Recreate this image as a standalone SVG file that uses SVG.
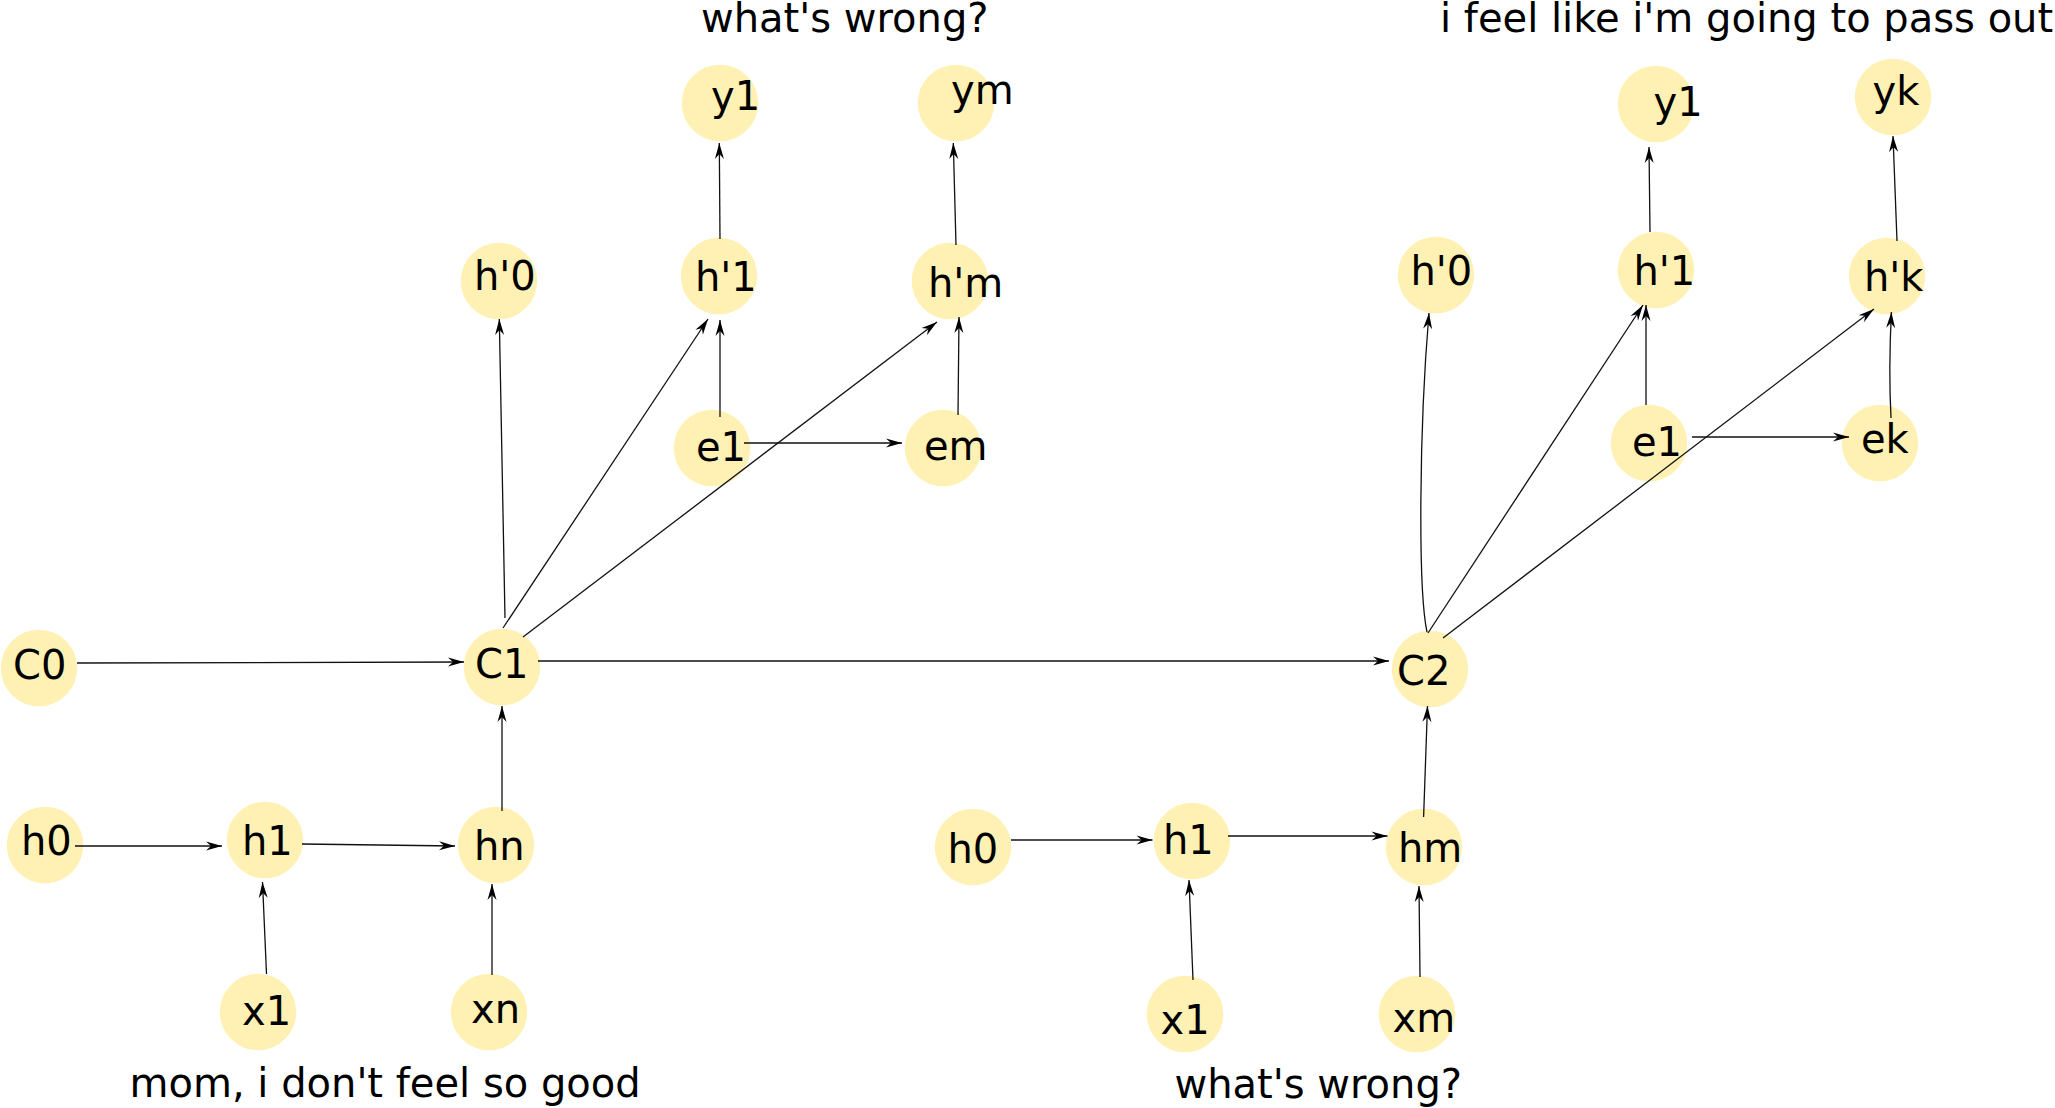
<svg xmlns="http://www.w3.org/2000/svg" width="2055" height="1108" viewBox="0 0 2055 1108">
<style>
.n circle{fill:#fff1b4;stroke:none}
text{font-family:"DejaVu Sans","Liberation Sans",sans-serif;font-size:40px;fill:#000}
.c path{fill:none;stroke:#111;stroke-width:1.3;marker-end:url(#ah)}
</style>
<defs>
<marker id="ah" markerUnits="userSpaceOnUse" viewBox="-17 -6 18 12" markerWidth="18" markerHeight="12" refX="0" refY="0" orient="auto">
<path d="M0,0 L-16,-4.5 L-11,0 L-16,4.5 Z" fill="#000"/>
</marker>
</defs>
<rect width="2055" height="1108" fill="#fff"/>
<g id="nodes">
<g id="C0" class="n"><circle cx="39" cy="668" r="38.3"/><text x="13" y="679">C0</text></g>
<g id="C1" class="n"><circle cx="502" cy="667" r="38.3"/><text x="475" y="678">C1</text></g>
<g id="h0a" class="n"><circle cx="45" cy="845" r="38.3"/><text x="21" y="855">h0</text></g>
<g id="h1a" class="n"><circle cx="265" cy="840" r="38.3"/><text x="242" y="855">h1</text></g>
<g id="hn" class="n"><circle cx="496" cy="845" r="38.3"/><text x="474" y="860">hn</text></g>
<g id="x1a" class="n"><circle cx="258" cy="1012" r="38.3"/><text x="242" y="1025">x1</text></g>
<g id="xn" class="n"><circle cx="489" cy="1012" r="38.3"/><text x="471" y="1023">xn</text></g>
<g id="hp0a" class="n"><circle cx="499" cy="281" r="38.3"/><text x="474" y="290">h'0</text></g>
<g id="hp1a" class="n"><circle cx="719" cy="276" r="38.3"/><text x="695" y="291">h'1</text></g>
<g id="hpm" class="n"><circle cx="950" cy="281" r="38.3"/><text x="928" y="297">h'm</text></g>
<g id="y1a" class="n"><circle cx="720" cy="103" r="38.3"/><text x="711" y="110">y1</text></g>
<g id="ym" class="n"><circle cx="956" cy="103" r="38.3"/><text x="951" y="104">ym</text></g>
<g id="e1a" class="n"><circle cx="712" cy="448" r="38.3"/><text x="696" y="461">e1</text></g>
<g id="em" class="n"><circle cx="943" cy="448" r="38.3"/><text x="924" y="460">em</text></g>
<g id="C2" class="n"><circle cx="1430" cy="669" r="38.3"/><text x="1397" y="685">C2</text></g>
<g id="h0b" class="n"><circle cx="973" cy="847" r="38.3"/><text x="947.5" y="863">h0</text></g>
<g id="h1b" class="n"><circle cx="1192" cy="841" r="38.3"/><text x="1163" y="854">h1</text></g>
<g id="hm" class="n"><circle cx="1424" cy="847" r="38.3"/><text x="1398" y="862">hm</text></g>
<g id="x1b" class="n"><circle cx="1185" cy="1014" r="38.3"/><text x="1160.5" y="1034">x1</text></g>
<g id="xm" class="n"><circle cx="1417" cy="1014" r="38.3"/><text x="1392.5" y="1032">xm</text></g>
<g id="hp0b" class="n"><circle cx="1436" cy="275" r="38.3"/><text x="1410.5" y="285">h'0</text></g>
<g id="hp1b" class="n"><circle cx="1656" cy="270" r="38.3"/><text x="1633.5" y="285">h'1</text></g>
<g id="hpk" class="n"><circle cx="1887" cy="276" r="38.3"/><text x="1864" y="291">h'k</text></g>
<g id="y1b" class="n"><circle cx="1656" cy="104" r="38.3"/><text x="1653.5" y="116">y1</text></g>
<g id="yk" class="n"><circle cx="1893" cy="97" r="38.3"/><text x="1872.5" y="105">yk</text></g>
<g id="e1b" class="n"><circle cx="1649" cy="443" r="38.3"/><text x="1632" y="456">e1</text></g>
<g id="ek" class="n"><circle cx="1880" cy="443" r="38.3"/><text x="1861" y="453">ek</text></g>
</g>
<g id="labels">
<text x="701" y="32">what's wrong?</text>
<text x="129.5" y="1097">mom, i don't feel so good</text>
<text x="1174.5" y="1098">what's wrong?</text>
<text x="1440" y="32">i feel like i'm going to pass out</text>
</g>
<g id="connectors" class="c">
<path d="M77,663 L464,662"/>
<path d="M538,661 L1389,661"/>
<path d="M502,811 L502,706"/>
<path d="M75,846 L222,846"/>
<path d="M302,844 L455,846"/>
<path d="M266.5,974 L262.5,882"/>
<path d="M492,975 L492,884"/>
<path d="M505,618 L499.3,319"/>
<path d="M503,628 L708,319"/>
<path d="M523,637 L937,322"/>
<path d="M720,417 L720,320"/>
<path d="M744,443 L902,443"/>
<path d="M958,415 L959,317"/>
<path d="M720,239 L719.3,143"/>
<path d="M956,245 L953.3,143"/>
<path d="M1011,840 L1152.5,840"/>
<path d="M1228,836 L1387.5,836"/>
<path d="M1193,980 L1189,880"/>
<path d="M1420,977 L1419,886"/>
<path d="M1423.6,817 L1427.5,706"/>
<path d="M1427,632 C1418,590 1419,430 1429,313"/>
<path d="M1428,633 L1643,305"/>
<path d="M1443,638 L1874,309"/>
<path d="M1646,405 L1646,305"/>
<path d="M1692,437 L1849,437"/>
<path d="M1891,418 C1889,380 1890,340 1891.4,312"/>
<path d="M1650,232 L1649,147"/>
<path d="M1897,241 L1893,136"/>
</g>
</svg>
